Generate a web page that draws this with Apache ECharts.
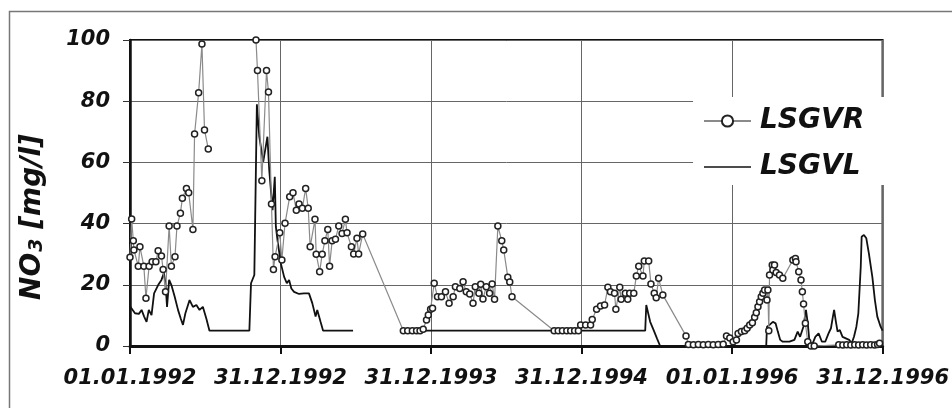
<!DOCTYPE html>
<html>
<head>
<meta charset="utf-8">
<script src="https://cdn.jsdelivr.net/npm/echarts@6/dist/echarts.min.js"></script>
<style>
html,body{margin:0;padding:0;background:#fff;}
#c{width:952px;height:408px;}
</style>
</head>
<body>
<div id="c"></div>
<script>
// x values: years since 01.01.1992
var tickLabels = ['01.01.1992','31.12.1992','31.12.1993','31.12.1994','01.01.1996','31.12.1996'];
var yTicks = [0,20,40,60,80,100];

var rvX = [0.000,0.011,0.022,0.026,0.055,0.066,0.092,0.106,0.127,0.147,0.172,0.187,0.209,0.220,0.236,0.260,0.275,0.299,0.312,0.335,0.348,0.375,0.390,0.418,0.429,0.456,0.478,0.495,0.520,
  0.600,
  0.837,0.847,0.876,0.907,0.920,0.940,0.953,0.964,0.995,1.009,1.030,1.061,1.083,1.105,1.123,1.145,1.167,1.184,1.197,1.229,1.237,1.260,1.277,1.295,1.314,1.326,1.343,1.365,1.387,1.409,1.431,1.442,1.471,1.486,1.508,1.519,1.546,
  1.816,1.845,1.876,1.904,1.927,1.948,1.970,1.982,1.997,2.010,2.021,2.043,2.069,2.096,2.120,2.147,2.162,2.191,2.213,2.234,2.257,2.279,2.294,2.318,2.330,2.345,2.367,2.389,2.406,2.422,2.444,2.470,2.483,2.510,2.523,2.538,
  2.818,2.845,2.873,2.902,2.928,2.954,2.979,2.994,3.027,3.060,3.071,3.100,3.126,3.153,3.175,3.192,3.219,3.228,3.254,3.263,3.291,3.307,3.320,3.347,3.364,3.380,3.408,3.417,3.446,3.461,3.483,3.496,3.512,3.540,
  3.694,3.710,3.743,3.776,3.809,3.842,3.875,3.908,3.941,3.963,3.985,4.007,4.029,4.040,4.062,4.084,4.100,4.117,4.135,4.150,4.161,4.172,4.183,4.194,4.205,4.216,4.232,4.238,4.244,4.249,4.267,4.271,4.282,4.293,4.315,4.337,4.404,4.421,4.425,4.443,4.458,4.467,4.475,4.487,4.503,4.524,4.546,
  4.709,4.736,4.762,4.789,4.815,4.841,4.868,4.894,4.921,4.947,4.967,4.980];
var rvY = [29,41.5,34.4,31.4,26.1,32.4,26.1,15.6,26.1,27.5,27.5,31.1,29.4,25,17.7,39.2,26.1,29.2,39.2,43.4,48.3,51.5,50.1,38.1,69.3,82.8,98.7,70.6,64.4,
  '-',
  100,90,54,90,83,46.4,25,29.2,37,28.1,40.1,48.8,50.1,44.4,46.4,45,51.5,45,32.4,41.4,30,24.3,30,34.4,38.1,26.1,34.4,34.9,39.2,36.8,41.4,37,32.4,30.1,35.2,30.1,36.6,
  5,5,5,5,5,5.5,8.5,10.1,12,12.3,20.5,16.1,16.1,17.7,14,16.1,19.4,18.8,21,17.7,17,14,19.4,17.2,20.2,15.4,19.4,17.2,20.3,15.3,39.2,34.4,31.4,22.5,20.9,16.1,
  5,5,5,5,5,5,5,6.9,6.9,6.9,8.7,12,13.1,13.4,19.2,17.7,17.2,12,19.2,15.3,17.2,15.3,17.2,17.2,22.9,26.1,22.9,27.8,27.8,20.3,17.2,15.8,22.1,16.7,
  3.3,0.5,0.4,0.5,0.4,0.5,0.4,0.5,0.6,3.3,2.6,1.4,2,4.1,4.7,5,5.8,6.9,7.6,9.4,10.9,12.8,14.5,16.1,17.2,18.3,15,18.3,5,23.2,26.5,24.8,26.5,24,23.2,22.1,28.1,28.6,27.5,24.3,21.6,17.7,13.7,7.4,1.4,0,0,
  0.4,0.3,0.4,0.3,0.4,0.3,0.4,0.3,0.4,0.3,0.5,0.9];

var lvX = [0.000,0.011,0.033,0.059,0.077,0.094,0.110,0.125,0.143,0.160,0.187,0.209,0.225,0.236,0.246,0.260,0.275,0.297,0.319,0.337,0.352,0.368,0.396,0.418,0.441,0.462,0.484,0.507,0.528,0.793,0.804,0.826,0.843,0.859,0.885,0.913,0.925,0.947,0.962,0.969,0.980,1.002,1.024,1.042,1.057,1.072,1.090,1.123,1.156,1.189,1.211,1.233,1.244,1.266,1.283,1.482,
  1.650,
  1.810,3.423,3.430,3.456,3.479,3.501,3.522,4.227,4.232,4.249,4.271,4.289,4.304,4.320,4.337,4.381,4.414,4.436,4.452,4.474,4.491,4.503,4.513,4.531,4.553,4.575,4.597,4.619,4.641,4.657,4.668,4.678,4.690,4.701,4.716,4.734,4.756,4.778,4.795,4.810,4.826,4.839,4.855,4.861,4.876,4.892,4.909,4.932,4.949,4.965,4.987,5.000];
var lvY = [13,13.4,10.7,10.5,11.8,9.6,7.9,11.8,10.1,17.2,19.9,21.6,23.8,20.5,12.8,21.6,19.9,16.1,11.8,9,6.9,10.7,15,12.8,13.4,11.8,12.8,9,5,5,20.5,23.2,79,68.4,60.2,68.4,57.5,44.4,55.3,39,34.6,27,22.6,20.5,21.6,18.8,17.7,17,17.2,17.2,14,9.6,11.8,7.9,5,5,
  '-',
  5,5,13.4,7.9,5.2,2.5,0,0,6.3,6.9,7.9,7.4,4.7,2,1.4,1.4,2,4.7,3,6.3,11.8,7.4,2,0.3,3,4.1,1.4,1.4,4.1,5.8,9,11.8,7.9,4.7,5.2,3,2.5,2,0.9,3,6.3,10.7,25.9,35.7,36.3,35.2,30.3,22.6,15,9.6,6.3,5];

function pairs(xs, ys){ return xs.map(function(x,i){ return [x, ys[i]]; }); }

var FONT = "'DejaVu Sans', sans-serif";
var chart = echarts.init(document.getElementById('c'), null, {renderer:'canvas'});
chart.setOption({
  animation: false,
  backgroundColor: '#fff',
  grid: {left:130, right:64, top:40, bottom:62, show:true, borderColor:'#111', borderWidth:2, backgroundColor:'transparent'},
  xAxis: {
    type:'value', min:0, max:5, interval:1,
    axisLine:{show:true, lineStyle:{color:'#111', width:3}},
    axisTick:{show:true, length:8, lineStyle:{color:'#111', width:2}},
    splitLine:{show:true, lineStyle:{color:'#666', width:1}},
    axisLabel:{show:true, margin:22, fontFamily:FONT, fontSize:21, fontWeight:'bold', fontStyle:'italic', color:'#111',
      showMinLabel:true, showMaxLabel:true,
      formatter:function(v){ return tickLabels[Math.round(v)] || ''; }}
  },
  yAxis: {
    type:'value', min:0, max:100, interval:20,
    axisLine:{show:true, lineStyle:{color:'#111', width:2.5}},
    axisTick:{show:true, length:7, lineStyle:{color:'#333', width:1}},
    splitLine:{show:true, lineStyle:{color:'#666', width:1}},
    axisLabel:{margin:20, fontFamily:FONT, fontSize:21, fontWeight:'bold', fontStyle:'italic', color:'#111',
      formatter:function(v){ return yTicks.indexOf(v) >= 0 ? String(v) : ''; }}
  },
  legend: {
    orient:'vertical', left:693, top:97, width:194,
    padding:[10,20,4,10], itemGap:18, itemWidth:47, itemHeight:14,
    backgroundColor:'#fff',
    textStyle:{fontFamily:FONT, fontSize:28, fontWeight:'bold', fontStyle:'italic', color:'#111', padding:[0,0,0,4]},
    data:[
      {name:'LSGVR'},
      {name:'LSGVL', icon:'path://M0,0M47,14M0,6.2L47,6.2L47,7.8L0,7.8Z', itemStyle:{color:'#111', borderWidth:0}}
    ]
  },
  graphic: [
    {type:'rect', left:7, top:9, shape:{width:990, height:450}, style:{fill:'none', stroke:'#777', lineWidth:1.5}, z:100, silent:true},
    {type:'text', x:33, y:217, rotation:Math.PI/2, z:100,
      style:{text:'{a|NO}{s|3}{a| [mg/l]}', align:'center', verticalAlign:'middle',
        rich:{a:{fontFamily:FONT, fontSize:28, fontWeight:'bold', fontStyle:'italic', fill:'#111', verticalAlign:'bottom'},
              s:{fontFamily:FONT, fontSize:19, fontWeight:'bold', fontStyle:'italic', fill:'#111', verticalAlign:'bottom', padding:[0,0,0,1]}}}}
  ],
  series: [
    {name:'LSGVL', type:'line', data:pairs(lvX,lvY), symbol:'none', showSymbol:false, connectNulls:false,
      lineStyle:{color:'#111', width:1.8}, itemStyle:{color:'#111'}, z:2},
    {name:'LSGVR', type:'line', data:pairs(rvX,rvY), symbol:'circle', symbolSize:6, showSymbol:true, connectNulls:false,
      lineStyle:{color:'#8a8a8a', width:1.2}, itemStyle:{color:'#fff', borderColor:'#222', borderWidth:1.5}, z:3}
  ]
});
</script>
</body>
</html>
